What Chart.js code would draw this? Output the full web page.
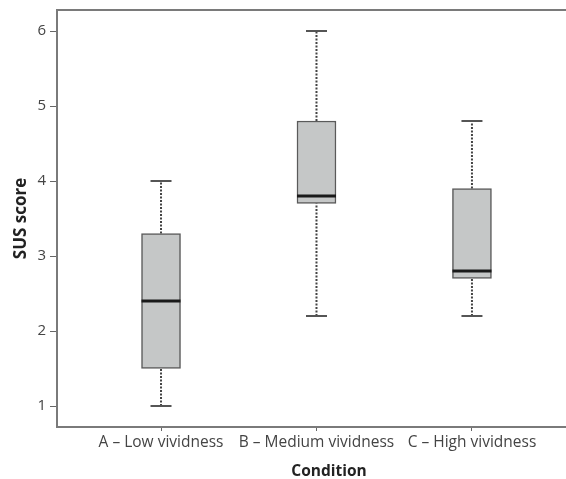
<!DOCTYPE html>
<html>
<head>
<meta charset="utf-8">
<script src="https://cdn.jsdelivr.net/npm/chart.js@4/dist/chart.umd.min.js"></script>
<style>
  html, body { margin: 0; padding: 0; background: #fff; overflow: hidden; }
  #wrap { width: 620px; height: 479px; }
</style>
</head>
<body>
<div id="wrap"><canvas id="chart"></canvas></div>
<script>
// box plot summary per condition
const categories = ['A \u2013 Low vividness', 'B \u2013 Medium vividness', 'C \u2013 High vividness'];
const mins    = [1.0, 2.2, 2.2];
const q1s     = [1.5, 3.7, 2.7];
const medians = [2.4, 3.8, 2.8];
const q3s     = [3.3, 4.8, 3.9];
const maxs    = [4.0, 6.0, 4.8];
const yTicks  = [1, 2, 3, 4, 5, 6];

const pos = categories.map((c, i) => i + 1);

// whiskers: min->q1 and q3->max, separated by gaps
const whiskerPts = [];
pos.forEach((x, i) => {
  whiskerPts.push({ x, y: mins[i] }, { x, y: q1s[i] }, { x, y: null });
  whiskerPts.push({ x, y: q3s[i] }, { x, y: maxs[i] }, { x, y: null });
});

const capPts = [];
pos.forEach((x, i) => {
  capPts.push({ x, y: mins[i] }, { x, y: maxs[i] });
});

// top frame line
const frameTop = {
  id: 'frameTop',
  afterDraw(chart) {
    const { ctx, chartArea } = chart;
    ctx.save();
    ctx.strokeStyle = '#7a7a7a';
    ctx.lineWidth = 2;
    ctx.beginPath();
    ctx.moveTo(chartArea.left - 1, chartArea.top);
    ctx.lineTo(chartArea.right, chartArea.top);
    ctx.stroke();
    ctx.restore();
  }
};

const font = "'Open Sans', sans-serif";

new Chart(document.getElementById('chart'), {
  type: 'bar',
  data: {
    datasets: [
      {
        type: 'scatter',
        data: pos.map((x, i) => ({ x, y: medians[i] })),
        pointStyle: 'line',
        pointRadius: 19.5,
        borderWidth: 3,
        borderColor: '#1a1a1a',
        order: 0
      },
      {
        data: pos.map((x, i) => ({ x, y: [q1s[i], q3s[i]] })),
        backgroundColor: '#c5c7c7',
        borderColor: '#5a5a5a',
        borderWidth: 1.5,
        borderSkipped: false,
        barThickness: 39,
        order: 1
      },
      {
        type: 'scatter',
        data: capPts,
        pointStyle: 'line',
        pointRadius: 10.5,
        borderWidth: 2,
        borderColor: '#555',
        order: 2
      },
      {
        type: 'line',
        data: whiskerPts,
        borderColor: '#444',
        borderWidth: 2,
        borderDash: [2, 1.5],
        pointRadius: 0,
        spanGaps: false,
        order: 3
      }
    ]
  },
  options: {
    responsive: true,
    maintainAspectRatio: false,
    animation: false,
    layout: { autoPadding: false, padding: { top: 10, right: 19, left: 0, bottom: 0 } },
    plugins: { legend: { display: false }, tooltip: { enabled: false } },
    scales: {
      x: {
        type: 'linear',
        offset: false,
        min: 0.331,
        max: 3.83,
        afterBuildTicks: s => { s.ticks = pos.map(v => ({ value: v })); },
        afterFit: s => { s.height = 52; s.paddingLeft = 0; s.paddingRight = 0; },
        ticks: {
          callback: v => categories[v - 1],
          color: '#444',
          font: { family: font, size: 15.5 },
          padding: 2,
          maxRotation: 0,
          autoSkip: false
        },
        grid: { offset: false, drawOnChartArea: false, tickLength: 4, color: '#666', lineWidth: 1 },
        border: { color: '#7a7a7a', width: 2 },
        title: {
          display: true,
          text: 'Condition',
          color: '#222',
          font: { family: font, size: 15.5, weight: 'bold', lineHeight: 1 },
          padding: { top: 0, bottom: 0 }
        }
      },
      y: {
        min: 0.72,
        max: 6.28,
        afterBuildTicks: s => { s.ticks = yTicks.map(v => ({ value: v })); },
        afterFit: s => { s.width = 57; s.paddingTop = 0; s.paddingBottom = 0; },
        ticks: {
          color: '#444',
          font: { family: font, size: 15 },
          padding: 4
        },
        grid: { drawOnChartArea: false, tickLength: 7, color: '#666', lineWidth: 1 },
        border: { color: '#7a7a7a', width: 2 },
        title: {
          display: true,
          text: 'SUS score',
          color: '#222',
          font: { family: font, size: 17, weight: 'bold' },
          padding: { top: 11, bottom: 0 }
        }
      }
    }
  },
  plugins: [frameTop]
});
</script>
</body>
</html>
